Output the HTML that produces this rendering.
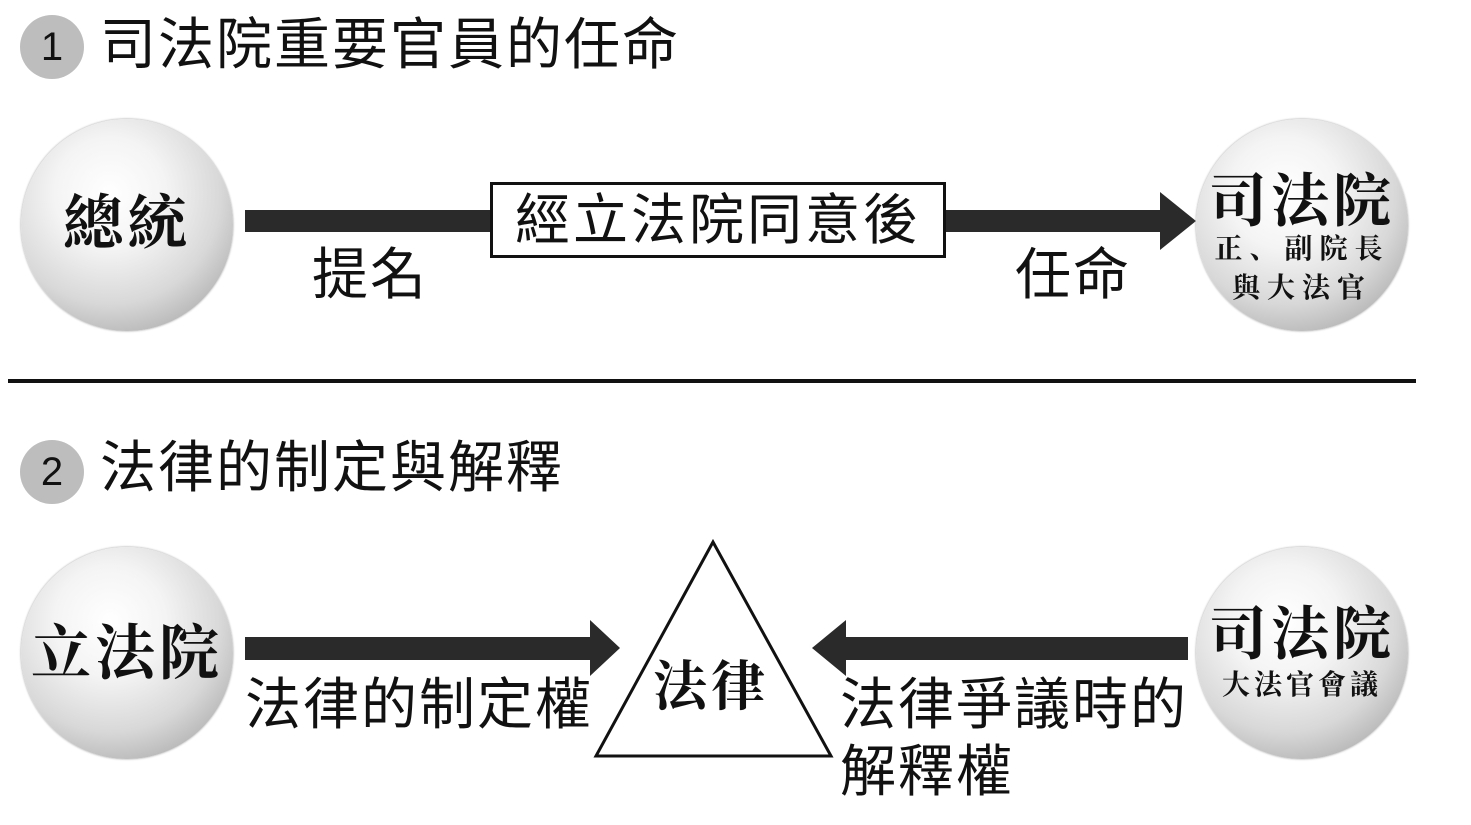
<!DOCTYPE html>
<html><head><meta charset="utf-8">
<style>
body{margin:0;width:1471px;height:825px;background:#fff;position:relative;overflow:hidden;font-family:"Liberation Sans","Noto Sans CJK TC",sans-serif;color:#111}
.a{position:absolute;white-space:nowrap}
.num{position:absolute;width:64px;height:64px;border-radius:50%;background:#bdbdbd;font-size:40px;line-height:64px;text-align:center;color:#111}
.title{font-size:56px;line-height:62px;letter-spacing:2px}
.sph{position:absolute;width:212px;height:212px;border-radius:50%;background:radial-gradient(circle at 42% 35%,#ffffff 0%,#f4f4f4 30%,#d8d8d8 60%,#a8a8a8 88%,#909090 100%);box-shadow:0 0 2px #999}
.ser{font-family:"Liberation Serif","Noto Serif CJK SC",serif;font-weight:bold;text-align:center;width:212px;position:absolute;left:0}
.bar{position:absolute;background:#2a2a2a}
.lbl{font-size:56px;line-height:60px;letter-spacing:2px}
</style></head><body>
<div class="num" style="left:20px;top:15px">1</div>
<div class="a title" style="left:100px;top:14px">司法院重要官員的任命</div>

<div class="sph" style="left:21px;top:119px"><div class="ser" style="top:70px;font-size:60px;line-height:70px;letter-spacing:4px">總統</div></div>

<div class="bar" style="left:245px;top:210px;width:925px;height:22px"></div>
<svg class="a" style="left:1160px;top:192px" width="40" height="58"><polygon points="0,0 36,29 0,58" fill="#2a2a2a"/></svg>
<div class="a" style="left:490px;top:182px;width:450px;height:70px;border:3px solid #111;background:#fff;font-size:55px;line-height:70px;text-align:center;letter-spacing:3px">經立法院同意後</div>
<div class="a lbl" style="left:312px;top:245px">提名</div>
<div class="a lbl" style="left:1015px;top:245px">任命</div>

<div class="sph" style="left:1196px;top:119px">
<div class="ser" style="top:50px;font-size:58px;line-height:66px;letter-spacing:4px">司法院</div>
<div class="ser" style="top:112px;font-size:28px;line-height:38px;letter-spacing:7px">正、副院長</div>
<div class="ser" style="top:151px;font-size:28px;line-height:38px;letter-spacing:7px">與大法官</div>
</div>

<div class="bar" style="left:8px;top:379px;width:1408px;height:4px;background:#111"></div>

<div class="num" style="left:20px;top:440px">2</div>
<div class="a title" style="left:100px;top:437px">法律的制定與解釋</div>

<div class="sph" style="left:21px;top:547px"><div class="ser" style="top:72px;font-size:60px;line-height:70px;letter-spacing:4px">立法院</div></div>

<div class="bar" style="left:245px;top:637px;width:355px;height:23px"></div>
<svg class="a" style="left:590px;top:620px" width="32" height="56"><polygon points="0,0 30,28 0,56" fill="#2a2a2a"/></svg>

<svg class="a" style="left:590px;top:536px" width="250" height="226"><polygon points="123,6 6,220 241,220" fill="#fff" stroke="#111" stroke-width="3"/></svg>
<div class="a ser" style="left:605px;top:655px;font-size:54px;line-height:64px;letter-spacing:4px">法律</div>

<svg class="a" style="left:812px;top:620px" width="36" height="56"><polygon points="34,0 0,28 34,56" fill="#2a2a2a"/></svg>
<div class="bar" style="left:845px;top:637px;width:343px;height:23px"></div>

<div class="a lbl" style="left:245px;top:675px">法律的制定權</div>
<div class="a lbl" style="left:840px;top:675px">法律爭議時的</div>
<div class="a lbl" style="left:840px;top:742px">解釋權</div>

<div class="sph" style="left:1196px;top:547px">
<div class="ser" style="top:55px;font-size:58px;line-height:66px;letter-spacing:4px">司法院</div>
<div class="ser" style="top:120px;font-size:28px;line-height:38px;letter-spacing:4px">大法官會議</div>
</div>
</body></html>
